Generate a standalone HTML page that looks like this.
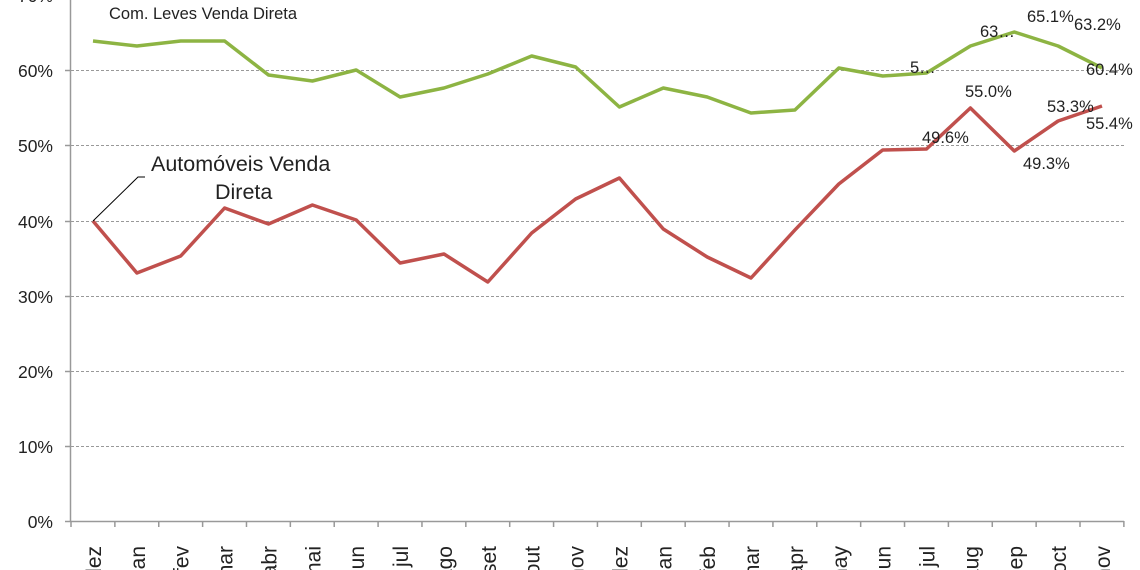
<!DOCTYPE html>
<html><head><meta charset="utf-8"><style>
body{margin:0;background:#fff;}
svg{display:block;font-family:"Liberation Sans",sans-serif;}
</style></head><body>
<svg width="1140" height="570" viewBox="0 0 1140 570">
<g stroke="#999" stroke-width="1" stroke-dasharray="3,2">
<line x1="71" y1="70.5" x2="1124" y2="70.5"/>
<line x1="71" y1="145.5" x2="1124" y2="145.5"/>
<line x1="71" y1="221.5" x2="1124" y2="221.5"/>
<line x1="71" y1="296.5" x2="1124" y2="296.5"/>
<line x1="71" y1="371.5" x2="1124" y2="371.5"/>
<line x1="71" y1="446.5" x2="1124" y2="446.5"/>
</g>
<g stroke="#999" stroke-width="1.5">
<line x1="70.5" y1="0" x2="70.5" y2="522"/>
<line x1="65" y1="521.5" x2="1124" y2="521.5"/>
<line x1="65" y1="-4.5" x2="71" y2="-4.5"/>
<line x1="65" y1="70.5" x2="71" y2="70.5"/>
<line x1="65" y1="145.5" x2="71" y2="145.5"/>
<line x1="65" y1="221.5" x2="71" y2="221.5"/>
<line x1="65" y1="296.5" x2="71" y2="296.5"/>
<line x1="65" y1="371.5" x2="71" y2="371.5"/>
<line x1="65" y1="446.5" x2="71" y2="446.5"/>
</g>
<g id="ticks" stroke="#999" stroke-width="1.5"></g>
<g font-size="17.5" fill="#222" text-anchor="end">
<text x="53" y="2">70%</text>
<text x="53" y="77">60%</text>
<text x="53" y="152">50%</text>
<text x="53" y="228">40%</text>
<text x="53" y="303">30%</text>
<text x="53" y="378">20%</text>
<text x="53" y="453">10%</text>
<text x="53" y="528">0%</text>
</g>
<g id="xl" font-size="21" fill="#222" text-anchor="end"></g>
<polyline id="g" fill="none" stroke="#8db443" stroke-width="3.5" stroke-linejoin="round"/>
<polyline id="r" fill="none" stroke="#c0504d" stroke-width="3.5" stroke-linejoin="round"/>
<text x="109" y="19" font-size="16.5" fill="#222">Com. Leves Venda Direta</text>
<text x="151" y="171" font-size="21.5" fill="#222">Automóveis Venda</text>
<text x="215" y="199" font-size="21.5" fill="#222">Direta</text>
<polyline points="93,221 138,177 145,177" fill="none" stroke="#000" stroke-width="1"/>
<g font-size="16.5" fill="#222">
<text x="910" y="73">5…</text>
<text x="980" y="37">63…</text>
<text x="1027" y="22">65.1%</text>
<text x="1074" y="30">63.2%</text>
<text x="1086" y="75">60.4%</text>
<text x="922" y="143">49.6%</text>
<text x="965" y="97">55.0%</text>
<text x="1023" y="169">49.3%</text>
<text x="1047" y="112">53.3%</text>
<text x="1086" y="129">55.4%</text>
</g>
</svg>
<script>
var gy=[41,46,41,41,75,81,70,97,88,74,56,67,107,88,97,113,110,68,76,73,46,32,46,68];
var ry=[221,273,256,208,224,205,220,263,254,282,233,199,178,229,257,278,230,184,150,149,108,151,121,106];
var lab=["dez","jan","fev","mar","abr","mai","jun","jul","ago","set","out","nov","dez","jan","feb","mar","apr","may","jun","jul","aug","sep","oct","nov"];
var ns="http://www.w3.org/2000/svg",w=43.87;
function px(i){return 93+i*w;}
document.getElementById('g').setAttribute('points',gy.map((y,i)=>px(i).toFixed(1)+','+y).join(' '));
document.getElementById('r').setAttribute('points',ry.map((y,i)=>px(i).toFixed(1)+','+y).join(' '));
var tk=document.getElementById('ticks'),xl=document.getElementById('xl');
for(var i=0;i<=24;i++){var l=document.createElementNS(ns,'line');var x=71+i*w;l.setAttribute('x1',x);l.setAttribute('x2',x);l.setAttribute('y1',521);l.setAttribute('y2',527);tk.appendChild(l);}
for(var i=0;i<24;i++){var t=document.createElementNS(ns,'text');var x=px(i)+8;t.setAttribute('transform','translate('+x+',546) rotate(-90)');t.textContent=lab[i];xl.appendChild(t);}
</script>
</body></html>
